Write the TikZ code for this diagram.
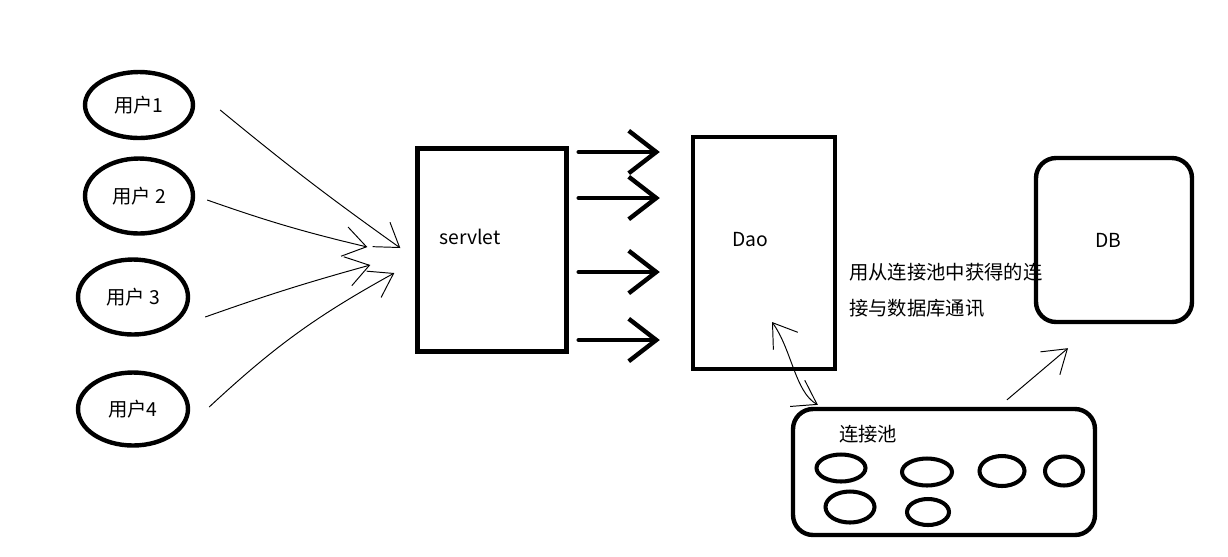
\documentclass[tikz,border=0pt]{standalone}
\usepackage{fontspec}
\setmainfont{Noto Sans CJK SC}
\usetikzlibrary{positioning,shapes,arrows.meta}

\begin{document}
\begin{tikzpicture}[
  x=0.02cm,y=-0.02cm,
  font=\fontsize{11}{13}\selectfont,
  user/.style={draw,ellipse,line width=2.5pt,minimum width=2.16cm,minimum height=1.4cm},
  box/.style={draw,rectangle,line width=2.5pt,inner sep=0pt},
  rbox/.style={box,rounded corners=0.4cm},
  conn/.style={draw,ellipse,line width=2.3pt,inner sep=0pt},
  bigarrow/.style={line width=2.5pt,line cap=round,-{Straight Barb[length=0.55cm,width=0.85cm]}},
  thinarrow/.style={line width=0.55pt,-{Straight Barb[length=0.45cm,width=0.6cm]}}
]
\useasboundingbox (0,0) rectangle (1228,556);
\node[user,minimum height=1.32cm] (u1) at (139,105) {用户1};
\node[user,minimum height=1.5cm] (u2) at (139,196) {用户 2};
\node[user,minimum width=2.2cm,minimum height=1.5cm] (u3) at (133,297) {用户 3};
\node[user,minimum width=2.2cm,minimum height=1.46cm] (u4) at (133,409) {用户4};
\node[box,minimum width=2.98cm,minimum height=4.06cm] (servlet) at (492,250) {};
\node at (470,237) {servlet};
\node[box,minimum width=2.84cm,minimum height=4.64cm] (dao) at (764,253) {};
\node at (750,240) {Dao};
\node[anchor=west,align=left,font=\fontsize{11}{20.5}\selectfont] (note) at (843,290) {用从连接池中获得的连\\接与数据库通讯};
\node[rbox,minimum width=3.12cm,minimum height=3.28cm] (db) at (1114,240) {};
\node at (1108,240) {DB};
\node[rbox,minimum width=6.04cm,minimum height=2.52cm] (pool) at (944,472) {};
\node at (868,434) {连接池};
\foreach \n/\x/\y/\w/\h in {1/841/468/0.98/0.54, 2/927/472/1.0/0.54, 3/1002/471/0.9/0.6,
  4/1064/471/0.76/0.58, 5/850/507/0.98/0.62, 6/928/512/0.84/0.52}
  \node[conn,minimum width=\w cm,minimum height=\h cm] (c\n) at (\x,\y) {};

\coordinate (in1) at ([shift={(-15,-2)}]servlet.west);
\coordinate (in2) at ([shift={(-48,-3)}]servlet.west);
\coordinate (in3) at ([shift={(-45,15)}]servlet.west);
\coordinate (in4) at ([shift={(-21,23)}]servlet.west);
\draw[thinarrow] ([shift={(25,5)}]u1.east) to[bend right=2] (in1);
\draw[thinarrow] ([shift={(12,4)}]u2.east) to[bend right=3] (in2);
\draw[thinarrow] ([shift={(15,20)}]u3.east) to[bend left=2] (in3);
\draw[thinarrow] ([shift={(19,-2)}]u4.east) to[bend left=7] (in4);

\foreach \y in {152,198,272,340}
  \draw[bigarrow,shorten <=0.2cm,shorten >=0.62cm] (servlet.east |- 0,\y) -- (dao.west |- 0,\y);

\coordinate (dp) at (772,322);
\draw[thinarrow,{Straight Barb[length=0.45cm,width=0.6cm]}-{Straight Barb[length=0.45cm,width=0.6cm]}]
  (dp) .. controls (792,350) and (795,392) .. ([shift={(27,-2)}]pool.north west);
\draw[thinarrow] ([shift={(63,-7)}]pool.north) -- ([shift={(-46,24)}]db.south);
\end{tikzpicture}
\end{document}
